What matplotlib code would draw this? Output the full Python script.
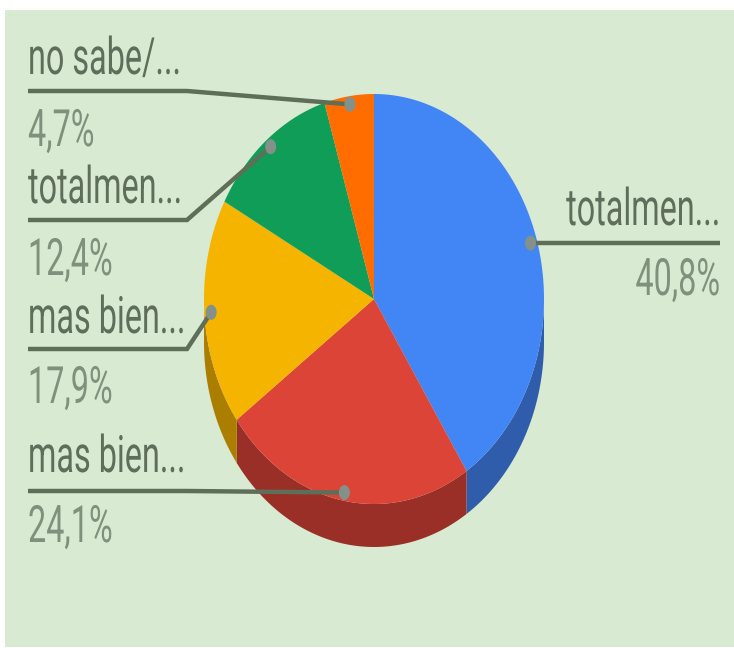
import numpy as np
import matplotlib
matplotlib.use("Agg")
import matplotlib.pyplot as plt
import matplotlib.patheffects as pe
from matplotlib.patches import Rectangle, Ellipse
from matplotlib.transforms import Affine2D

# ==========================================
# DATA
# ==========================================

labels = ["totalmen...", "mas bien...", "mas bien...", "totalmen...", "no sabe/..."]
values = [40.8, 24.1, 17.9, 12.4, 4.7]
value_labels = ["40,8%", "24,1%", "17,9%", "12,4%", "4,7%"]

colors = ["#4285F4", "#DB4437", "#F4B400", "#0F9D58", "#FF6D00"]
side_colors = ["#2F5DAB", "#992F26", "#AB7E00", "#0A6E3E", "#B34C00"]

# ==========================================
# LAYOUT (pixels of the 734x648 picture)
# ==========================================

cx, cy = 374, 299
rx, ry = 170, 205
depth = 43

# leader row y, elbow x, text edge x for each slice
row_y = [243, 491, 349, 220, 91]
elbow_x = [530, 187, 187, 187, 187]
edge_x = [720, 28, 28, 28, 28]
name_y = [225, 472, 333, 203, 74]
pct_y = [295, 542, 403, 275, 146]

text_color = "#5E6E5B"
pct_color = "#7F907C"
line_color = "#5F6E59"
dot_color = "#84918A"

font_size = 37
squeeze = 0.63

plt.rcParams["font.family"] = ["Roboto", "DejaVu Sans"]


# the reference text is squeezed sideways, so squeeze the glyphs around the anchor
class Squeeze(pe.AbstractPathEffect):
    def __init__(self, x0, sx):
        super().__init__()
        self.x0 = x0
        self.sx = sx

    def draw_path(self, renderer, gc, tpath, affine, rgbFace=None):
        squeezed = affine + Affine2D().translate(-self.x0, 0).scale(self.sx, 1).translate(self.x0, 0)
        renderer.draw_path(gc, tpath, squeezed, rgbFace)


fig = plt.figure(figsize=(7.34, 6.48), dpi=100, facecolor="white")
ax = fig.add_axes([0, 0, 1, 1])
ax.set_xlim(0, 734)
ax.set_ylim(648, 0)
ax.axis("off")

ax.add_patch(Rectangle((5, 10), 729, 637, facecolor="#D9EAD3", edgecolor="none", zorder=0))

# ==========================================
# PIE
# ==========================================

total = sum(values)
edges = np.cumsum([0] + values) / total * 2 * np.pi


def rim(a):
    return cx + rx * np.sin(a), cy - ry * np.cos(a)


# side wall, only the part facing the viewer
for i in range(len(values)):
    start = max(edges[i], np.pi / 2)
    end = min(edges[i + 1], 3 * np.pi / 2)
    if end <= start:
        continue
    a = np.linspace(start, end, 120)
    x, y = rim(a)
    ax.fill(
        np.r_[x, x[::-1]],
        np.r_[y, y[::-1] + depth],
        color=side_colors[i],
        lw=0,
        zorder=2,
    )

# top face
for i in range(len(values)):
    a = np.linspace(edges[i], edges[i + 1], 120)
    x, y = rim(a)
    ax.fill(np.r_[cx, x], np.r_[cy, y], color=colors[i], lw=0, zorder=3)

# ==========================================
# LEADERS AND LABELS
# ==========================================

for i in range(len(values)):
    mid = (edges[i] + edges[i + 1]) / 2
    px = cx + 0.96 * rx * np.sin(mid)
    py = cy - 0.96 * ry * np.cos(mid)

    ax.plot(
        [edge_x[i], elbow_x[i], px],
        [row_y[i], row_y[i], py],
        color=line_color,
        lw=3.2,
        solid_joinstyle="miter",
        solid_capstyle="butt",
        zorder=4,
    )
    ax.add_patch(Ellipse((px, py), 11, 15, facecolor=dot_color, edgecolor="none", zorder=5))

    ha = "right" if edge_x[i] > cx else "left"
    effect = [Squeeze(edge_x[i], squeeze)]
    ax.text(edge_x[i], name_y[i], labels[i], color=text_color,
            fontsize=font_size, ha=ha, va="baseline", zorder=6, path_effects=effect)
    ax.text(edge_x[i], pct_y[i], value_labels[i], color=pct_color,
            fontsize=font_size, ha=ha, va="baseline", zorder=6, path_effects=effect)

fig.savefig("out.png", dpi=100)
